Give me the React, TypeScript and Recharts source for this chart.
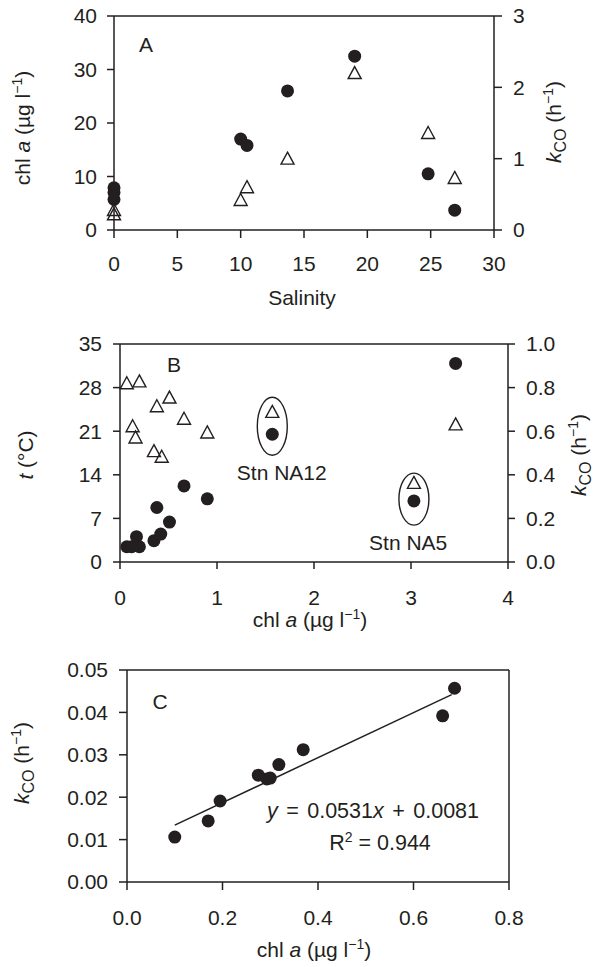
import React from 'react';
import { ScatterChart, Scatter, XAxis, YAxis, ReferenceLine } from 'recharts';

// ---------- Panel A data ----------
const salinityCircles = [0, 0, 0, 10, 10.5, 13.7, 19.0, 24.8, 26.9];
const chlACircles = [7.9, 7.0, 5.7, 17.0, 15.8, 26.0, 32.5, 10.5, 3.7];
const salinityTriangles = [0, 0, 10, 10.5, 13.7, 19.0, 24.8, 26.9];
const kcoTrianglesA = [0.28, 0.22, 0.42, 0.6, 1.0, 2.2, 1.36, 0.73];
const salinityTicks = [0, 5, 10, 15, 20, 25, 30];
const chlTicksA = [0, 10, 20, 30, 40];
const kcoTicksA = [0, 1, 2, 3];

// ---------- Panel B data ----------
const chlTriB = [0.07, 0.2, 0.13, 0.16, 0.38, 0.51, 0.35, 0.43, 0.66, 0.9, 1.57, 3.03, 3.46];
const tempTriB = [28.7, 29.0, 21.8, 20.0, 25.0, 26.4, 17.8, 16.9, 23.0, 20.8, 24.1, 12.7, 22.1];
const chlCircB = [0.07, 0.12, 0.17, 0.2, 0.35, 0.42, 0.51, 0.38, 0.66, 0.9, 1.57, 3.03, 3.46];
const kcoCircB = [0.07, 0.07, 0.116, 0.07, 0.098, 0.128, 0.183, 0.25, 0.349, 0.29, 0.586, 0.28, 0.911];
const stationNames = ['Stn NA12', 'Stn NA5'];
const stationChl = [1.57, 3.03];
const stationTemp = [21.8, 10.1];
const chlTicksB = [0, 1, 2, 3, 4];
const tempTicksB = [0, 7, 14, 21, 28, 35];
const kcoTicksB = [0, 0.2, 0.4, 0.6, 0.8, 1.0];

// ---------- Panel C data ----------
const chlC = [0.1, 0.17, 0.195, 0.275, 0.293, 0.3, 0.318, 0.369, 0.661, 0.686];
const kcoC = [0.0106, 0.0144, 0.0191, 0.0252, 0.0243, 0.0245, 0.0277, 0.0312, 0.0392, 0.0457];
const fitChl = [0.1, 0.68];
const fitKco = [0.0134, 0.0442];
const chlTicksC = [0, 0.2, 0.4, 0.6, 0.8];
const kcoTicksC = [0, 0.01, 0.02, 0.03, 0.04, 0.05];

const zip = (xs: number[], ys: number[]) => xs.map((x, i) => ({ x, y: ys[i] }));

const INK = '#231f20';
const FONT = '"Liberation Sans", Arial, Helvetica, sans-serif';
const FS = 21;
const axisStyle = { stroke: INK, strokeWidth: 1.5 };
const tickStyle = { fill: INK, fontSize: FS, fontFamily: FONT };

// ellipse/label styling per station (not data)
const stationStyle: Record<string, { rx: number; ry: number; dx: number; dy: number }> = {
  'Stn NA12': { rx: 15, ry: 29, dx: 9.5, dy: 54 },
  'Stn NA5': { rx: 15, ry: 26, dx: -5.7, dy: 51 },
};

const Dot = (props: any) => {
  const { cx, cy } = props;
  if (cx == null || cy == null) return <g />;
  return <circle cx={cx} cy={cy} r={6.5} fill={INK} />;
};

const Triangle = (props: any) => {
  const { cx, cy } = props;
  if (cx == null || cy == null) return <g />;
  return (
    <path
      d={`M${cx},${cy - 6.5} L${cx + 6.5},${cy + 5.5} L${cx - 6.5},${cy + 5.5} Z`}
      fill="none"
      stroke={INK}
      strokeWidth={1.4}
      strokeLinejoin="miter"
    />
  );
};

const StationMark = (props: any) => {
  const { cx, cy, payload } = props;
  if (cx == null || cy == null) return <g />;
  const s = stationStyle[payload.name];
  return (
    <g>
      <ellipse cx={cx} cy={cy} rx={s.rx} ry={s.ry} fill="none" stroke={INK} strokeWidth={1.4} />
      <text x={cx + s.dx} y={cy + s.dy} textAnchor="middle" fontSize={FS} fontFamily={FONT} fill={INK}>
        {payload.name}
      </text>
    </g>
  );
};

const NoShape = () => <g />;

const Txt = ({ x, y, size = FS, rotate = false, children, extra = {} }: any) => (
  <div
    style={{
      position: 'absolute',
      left: x,
      top: y,
      transform: `translate(-50%, -50%)${rotate ? ' rotate(-90deg)' : ''}`,
      fontFamily: FONT,
      fontSize: size,
      lineHeight: `${size}px`,
      color: INK,
      whiteSpace: 'nowrap',
      ...extra,
    }}
  >
    {children}
  </div>
);

const Sup = ({ children }: any) => (
  <span style={{ fontSize: 14, position: 'relative', top: -8 }}>{children}</span>
);
const Sub = ({ children }: any) => (
  <span style={{ fontSize: 16, position: 'relative', top: 5 }}>{children}</span>
);

const ChlLabel = () => (
  <>
    chl <i>a</i> (µg l<Sup>−1</Sup>)
  </>
);
const KcoLabel = () => (
  <>
    <i>k</i>
    <Sub>CO</Sub> (h<Sup>−1</Sup>)
  </>
);

export default function App() {
  const aCirc = zip(salinityCircles, chlACircles);
  const aTri = zip(salinityTriangles, kcoTrianglesA);
  const bTri = zip(chlTriB, tempTriB);
  const bCirc = zip(chlCircB, kcoCircB);
  const stations = stationNames.map((name, i) => ({ name, x: stationChl[i], y: stationTemp[i] }));
  const cPts = zip(chlC, kcoC);
  const cFit = zip(fitChl, fitKco);

  return (
    <div style={{ position: 'absolute', left: 0, top: 0, width: 596, height: 967, background: '#fff', overflow: 'hidden' }}>
      {/* Panel A */}
      <div style={{ position: 'absolute', left: 0, top: 0 }}>
        <ScatterChart width={596} height={320} margin={{ top: 16, right: 0, bottom: 0, left: 0 }}>
          <XAxis type="number" dataKey="x" domain={[0, 30]} ticks={salinityTicks} interval={0} height={90}
            tickSize={8} tickMargin={18} axisLine={axisStyle} tickLine={axisStyle} tick={tickStyle} />
          <YAxis yAxisId="left" type="number" dataKey="y" domain={[0, 40]} ticks={chlTicksA} interval={0} width={114}
            tickSize={7} tickMargin={10} axisLine={axisStyle} tickLine={axisStyle} tick={tickStyle} />
          <YAxis yAxisId="right" orientation="right" type="number" dataKey="y" domain={[0, 3]} ticks={kcoTicksA} interval={0}
            width={102} tickSize={8} tickMargin={11} axisLine={axisStyle} tickLine={axisStyle} tick={tickStyle} />
          <ReferenceLine yAxisId="left" y={40} stroke={INK} strokeWidth={1.5} />
          <Scatter yAxisId="left" data={aCirc} shape={Dot} isAnimationActive={false} />
          <Scatter yAxisId="right" data={aTri} shape={Triangle} isAnimationActive={false} />
        </ScatterChart>
      </div>

      {/* Panel B */}
      <div style={{ position: 'absolute', left: 0, top: 320 }}>
        <ScatterChart width={596} height={320} margin={{ top: 24, right: 0, bottom: 0, left: 0 }}>
          <XAxis type="number" dataKey="x" domain={[0, 4]} ticks={chlTicksB} interval={0} height={78}
            tickSize={7} tickMargin={21} axisLine={axisStyle} tickLine={axisStyle} tick={tickStyle} />
          <YAxis yAxisId="left" type="number" dataKey="y" domain={[0, 35]} ticks={tempTicksB} interval={0} width={120}
            tickSize={7} tickMargin={11} axisLine={axisStyle} tickLine={axisStyle} tick={tickStyle} />
          <YAxis yAxisId="right" orientation="right" type="number" dataKey="y" domain={[0, 1]} ticks={kcoTicksB} interval={0}
            width={88} tickSize={7} tickMargin={11} axisLine={axisStyle} tickLine={axisStyle} tick={tickStyle}
            tickFormatter={(v: number) => v.toFixed(1)} />
          <ReferenceLine yAxisId="left" y={35} stroke={INK} strokeWidth={1.5} />
          <Scatter yAxisId="left" data={stations} shape={StationMark} isAnimationActive={false} />
          <Scatter yAxisId="left" data={bTri} shape={Triangle} isAnimationActive={false} />
          <Scatter yAxisId="right" data={bCirc} shape={Dot} isAnimationActive={false} />
        </ScatterChart>
      </div>

      {/* Panel C */}
      <div style={{ position: 'absolute', left: 0, top: 640 }}>
        <ScatterChart width={596} height={327} margin={{ top: 30, right: 87, bottom: 0, left: 0 }}>
          <XAxis type="number" dataKey="x" domain={[0, 0.8]} ticks={chlTicksC} interval={0} height={85}
            tickSize={8} tickMargin={20} axisLine={axisStyle} tickLine={axisStyle} tick={tickStyle}
            tickFormatter={(v: number) => v.toFixed(1)} />
          <YAxis type="number" dataKey="y" domain={[0, 0.05]} ticks={kcoTicksC} interval={0} width={127}
            tickSize={8} tickMargin={11} axisLine={axisStyle} tickLine={axisStyle} tick={tickStyle}
            tickFormatter={(v: number) => v.toFixed(2)} />
          <ReferenceLine y={0.05} stroke={INK} strokeWidth={1.5} />
          <ReferenceLine x={0.8} stroke={INK} strokeWidth={1.5} />
          <Scatter data={cFit} shape={NoShape} line={{ stroke: INK, strokeWidth: 1.5 }} isAnimationActive={false} />
          <Scatter data={cPts} shape={Dot} isAnimationActive={false} />
        </ScatterChart>
      </div>

      {/* Panel letters */}
      <Txt x={146} y={44}>A</Txt>
      <Txt x={174} y={364}>B</Txt>
      <Txt x={160} y={701}>C</Txt>

      {/* Axis titles */}
      <Txt x={302} y={297}>Salinity</Txt>
      <Txt x={24} y={128} rotate><ChlLabel /></Txt>
      <Txt x={555} y={122} rotate><KcoLabel /></Txt>

      <Txt x={310} y={621}><ChlLabel /></Txt>
      <Txt x={25} y={455} rotate><i>t</i> (°C)</Txt>
      <Txt x={580} y={455} rotate><KcoLabel /></Txt>

      <Txt x={314} y={951}><ChlLabel /></Txt>
      <Txt x={23} y={763} rotate><KcoLabel /></Txt>

      {/* Regression annotation */}
      <Txt x={373} y={812} size={21.5} extra={{ wordSpacing: 2.5 }}>
        <i>y</i> = 0.0531<i>x</i> + 0.0081
      </Txt>
      <Txt x={380} y={845} size={21.5}>
        R<Sup>2</Sup> = 0.944
      </Txt>
    </div>
  );
}
